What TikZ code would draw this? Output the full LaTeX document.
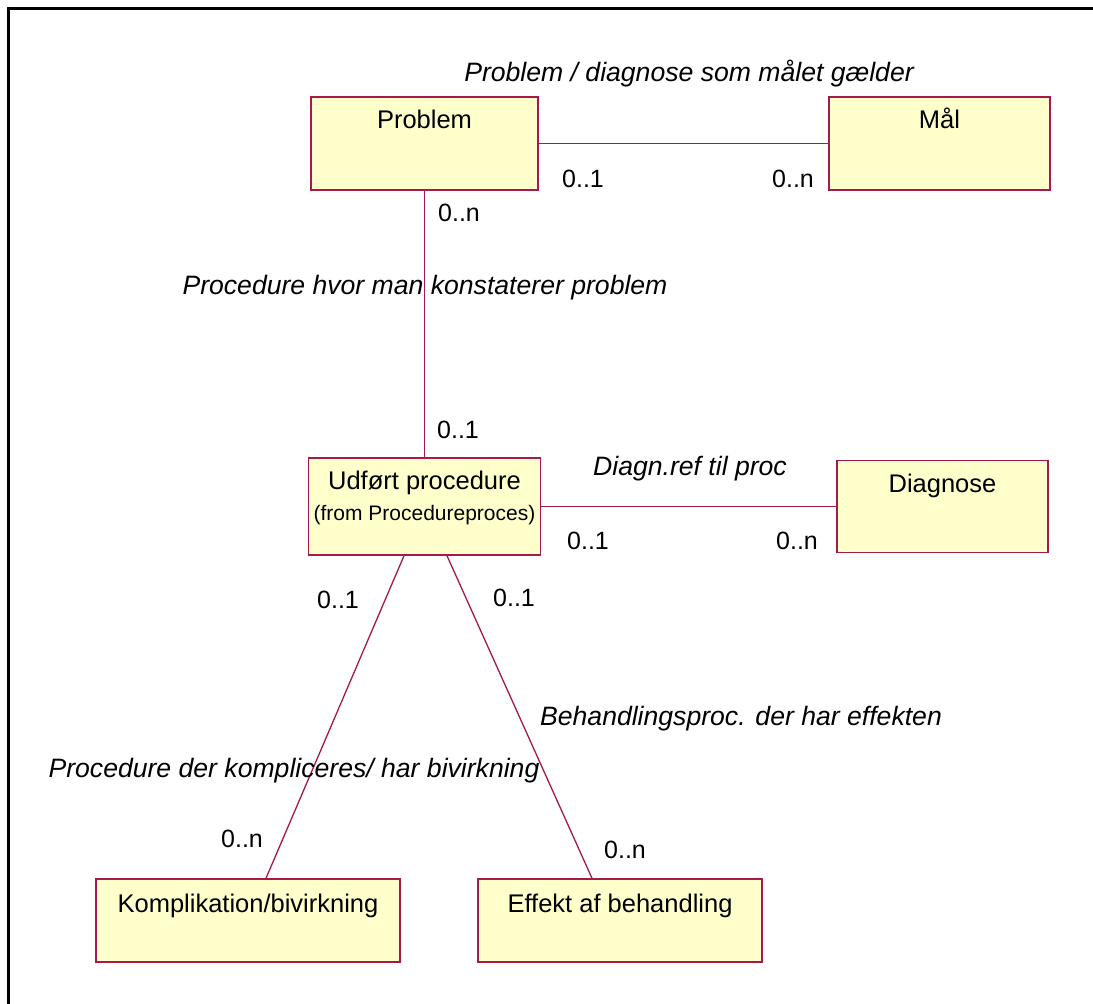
\documentclass[tikz,border=0pt]{standalone}
\usepackage{fontspec}
\setmainfont{Liberation Sans}
\definecolor{umlline}{RGB}{165,25,75}
\definecolor{umlfill}{RGB}{255,255,204}
\begin{document}
\begin{tikzpicture}[x=1pt,y=-1pt,
  cls/.style n args={2}{draw=umlline, fill=umlfill, line width=1.5pt, inner sep=0pt,
    minimum width=#1, minimum height=#2},
  clsname/.style={anchor=base, inner sep=0pt, font=\fontsize{25.5}{30}\selectfont},
  clssub/.style={anchor=base, inner sep=0pt, font=\fontsize{21}{25}\selectfont},
  mult/.style={anchor=base, inner sep=0pt, font=\fontsize{25}{30}\selectfont},
  role/.style={anchor=base, inner sep=0pt, font=\fontsize{26.6}{31}\selectfont\itshape},
  assoc/.style={draw=umlline, line width=1.3pt}]

\useasboundingbox (0,0) rectangle (1093,1004);
\fill[white] (0,0) rectangle (1093,1004);

% diagram frame (top and left edges)
\draw[line width=3pt] (8.5,1004) -- (8.5,8.5) -- (1093,8.5);

% classes
\node[cls={227pt}{93pt}] (prob) at (424.5,143.5) {};
\node[cls={221pt}{93pt}] (maal) at (939.5,143.5) {};
\node[cls={232pt}{97pt}] (udf) at (424.5,506.5) {};
\node[cls={211pt}{92pt}] (diag) at (942.5,506.5) {};
\node[cls={304pt}{83pt}] (komp) at (248,920.5) {};
\node[cls={284pt}{83pt}] (eff) at (620,920.5) {};

\node[clsname] (probT) at (424.5,128) {Problem};
\node[clsname] (maalT) at (939.5,128) {Mål};
\node[clsname] (udfT) at (424.5,489) {Udført procedure};
\node[clssub] (udfS) at (424.5,520) {(from Procedureproces)};
\node[clsname] (diagT) at (942.5,492) {Diagnose};
\node[clsname] (kompT) at (248,912) {Komplikation/bivirkning};
\node[clsname] (effT) at (620,912) {Effekt af behandling};

% associations
\draw[assoc] (prob) -- (maal);
\draw[assoc] (prob.south) -- (udf.north);
\draw[assoc] (udf) -- (diag);
\draw[assoc] ([xshift=-20.5pt]udf.south) -- ([xshift=18pt]komp.north);
\draw[assoc] ([xshift=22.5pt]udf.south) -- ([xshift=-28pt]eff.north);

% role names
\node[role] (r1) at (689,81) {Problem / diagnose som målet gælder};
\node[role] (r2) at (425,294) {Procedure hvor man konstaterer problem};
\node[role] (r3) at (690,475) {Diagn.ref til proc};
\node[role] (r4) at (741,725) {Behandlingsproc. der har effekten};
\node[role] (r5) at (294,777) {Procedure der kompliceres/ har bivirkning};

% multiplicities
\node[mult] (m1) at (583,187) {0..1};
\node[mult] (m2) at (793,187) {0..n};
\node[mult] (m3) at (459,221) {0..n};
\node[mult] (m4) at (458,438) {0..1};
\node[mult] (m5) at (588,549) {0..1};
\node[mult] (m6) at (797,549) {0..n};
\node[mult] (m7) at (338,608) {0..1};
\node[mult] (m8) at (514,606) {0..1};
\node[mult] (m9) at (242,847) {0..n};
\node[mult] (m10) at (625,858) {0..n};
\end{tikzpicture}
\end{document}
